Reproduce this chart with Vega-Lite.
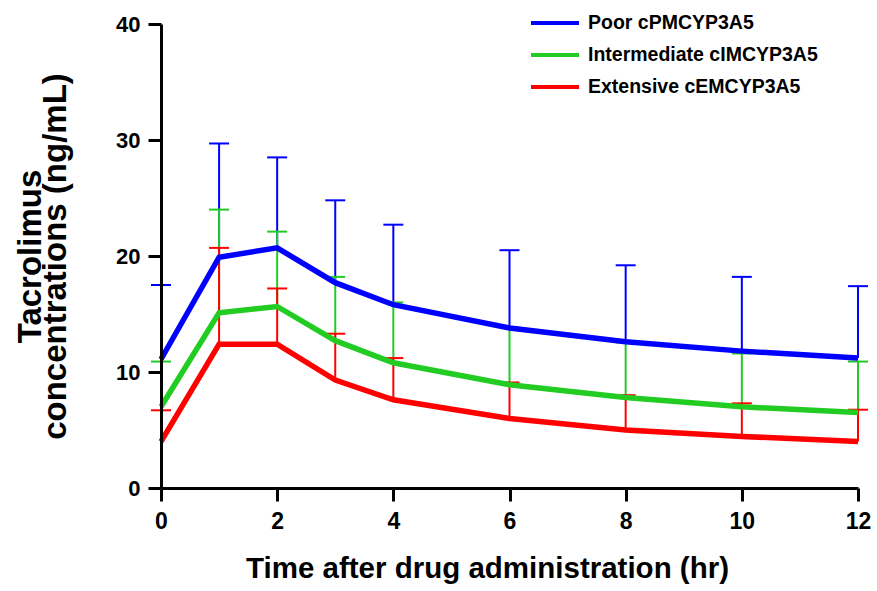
{
  "$schema": "https://vega.github.io/schema/vega-lite/v6.json",
  "width": 697,
  "height": 464,
  "autosize": {"type": "none"},
  "padding": {"left": 161, "top": 24, "right": 19, "bottom": 103},
  "background": "white",
  "config": {
    "view": {"stroke": null},
    "font": "Liberation Sans"
  },
  "data": {
    "values": [
      {"group": "Poor cPMCYP3A5", "t": 0, "mean": 11.1, "upper": 17.5},
      {"group": "Poor cPMCYP3A5", "t": 1, "mean": 19.9, "upper": 29.7},
      {"group": "Poor cPMCYP3A5", "t": 2, "mean": 20.7, "upper": 28.5},
      {"group": "Poor cPMCYP3A5", "t": 3, "mean": 17.7, "upper": 24.8},
      {"group": "Poor cPMCYP3A5", "t": 4, "mean": 15.8, "upper": 22.7},
      {"group": "Poor cPMCYP3A5", "t": 6, "mean": 13.8, "upper": 20.5},
      {"group": "Poor cPMCYP3A5", "t": 8, "mean": 12.6, "upper": 19.2},
      {"group": "Poor cPMCYP3A5", "t": 10, "mean": 11.8, "upper": 18.2},
      {"group": "Poor cPMCYP3A5", "t": 12, "mean": 11.2, "upper": 17.4},
      {"group": "Intermediate cIMCYP3A5", "t": 0, "mean": 7.0, "upper": 10.9},
      {"group": "Intermediate cIMCYP3A5", "t": 1, "mean": 15.1, "upper": 24.0},
      {"group": "Intermediate cIMCYP3A5", "t": 2, "mean": 15.65, "upper": 22.1},
      {"group": "Intermediate cIMCYP3A5", "t": 3, "mean": 12.7, "upper": 18.2},
      {"group": "Intermediate cIMCYP3A5", "t": 4, "mean": 10.8, "upper": 16.0},
      {"group": "Intermediate cIMCYP3A5", "t": 6, "mean": 8.9, "upper": 13.85},
      {"group": "Intermediate cIMCYP3A5", "t": 8, "mean": 7.8, "upper": 12.55},
      {"group": "Intermediate cIMCYP3A5", "t": 10, "mean": 7.0, "upper": 11.6},
      {"group": "Intermediate cIMCYP3A5", "t": 12, "mean": 6.5, "upper": 10.9},
      {"group": "Extensive cEMCYP3A5", "t": 0, "mean": 4.0, "upper": 6.7},
      {"group": "Extensive cEMCYP3A5", "t": 1, "mean": 12.4, "upper": 20.7},
      {"group": "Extensive cEMCYP3A5", "t": 2, "mean": 12.4, "upper": 17.2},
      {"group": "Extensive cEMCYP3A5", "t": 3, "mean": 9.3, "upper": 13.3},
      {"group": "Extensive cEMCYP3A5", "t": 4, "mean": 7.6, "upper": 11.2},
      {"group": "Extensive cEMCYP3A5", "t": 6, "mean": 6.0, "upper": 9.1},
      {"group": "Extensive cEMCYP3A5", "t": 8, "mean": 5.0, "upper": 8.0},
      {"group": "Extensive cEMCYP3A5", "t": 10, "mean": 4.45, "upper": 7.3},
      {"group": "Extensive cEMCYP3A5", "t": 12, "mean": 4.0, "upper": 6.75}
    ]
  },
  "encoding": {
    "x": {
      "field": "t",
      "type": "quantitative",
      "scale": {"domain": [0, 12], "nice": false, "zero": false},
      "axis": {
        "zindex": 1,
        "grid": false,
        "values": [0, 2, 4, 6, 8, 10, 12],
        "domainColor": "black",
        "domainWidth": 3,
        "ticks": true,
        "tickSize": 13,
        "tickWidth": 3,
        "tickColor": "black",
        "tickOpacity": 1,
        "labelFlush": false,
        "labelFont": "Liberation Sans",
        "labelFontWeight": "bold",
        "labelColor": "black",
        "labelFontSize": 23,
        "labelPadding": 9,
        "title": "Time after drug administration (hr)",
        "titleFont": "Liberation Sans",
        "titleFontWeight": "bold",
        "titleColor": "black",
        "titleFontSize": 29.5,
        "titleX": 326,
        "titleY": 89,
        "titleBaseline": "alphabetic",
        "titleAnchor": null
      }
    },
    "y": {
      "field": "mean",
      "type": "quantitative",
      "scale": {"domain": [0, 40], "nice": false},
      "axis": {
        "zindex": 1,
        "grid": false,
        "values": [0, 10, 20, 30, 40],
        "domainColor": "black",
        "domainWidth": 3,
        "ticks": true,
        "tickSize": 13,
        "tickWidth": 3,
        "tickColor": "black",
        "tickOpacity": 1,
        "labelFlush": false,
        "labelFont": "Liberation Sans",
        "labelFontWeight": "bold",
        "labelColor": "black",
        "labelFontSize": 22,
        "labelPadding": 8,
        "title": ["Tacrolimus", "concentrations (ng/mL)"],
        "titleFont": "Liberation Sans",
        "titleFontWeight": "bold",
        "titleColor": "black",
        "titleFontSize": 33,
        "titleLineHeight": 25,
        "titleAngle": -90,
        "titleX": -121,
        "titleY": 232,
        "titleAlign": "center",
        "titleBaseline": "alphabetic",
        "titleAnchor": null
      }
    },
    "color": {
      "field": "group",
      "type": "nominal",
      "scale": {
        "domain": ["Poor cPMCYP3A5", "Intermediate cIMCYP3A5", "Extensive cEMCYP3A5"],
        "range": ["#0000ff", "#22cc22", "#ff0000"]
      },
      "legend": {
        "title": null,
        "orient": "none",
        "legendX": 368,
        "legendY": -17,
        "symbolType": "stroke",
        "symbolSize": 2304,
        "symbolStrokeWidth": 4,
        "clipHeight": 32,
        "rowPadding": 0,
        "labelOffset": 7,
        "labelFont": "Liberation Sans",
        "labelFontWeight": "bold",
        "labelFontSize": 19.5,
        "labelColor": "black",
        "labelLimit": 400
      }
    }
  },
  "layer": [
    {
      "mark": {"type": "rule", "strokeWidth": 2},
      "encoding": {
        "y2": {"field": "upper"}
      }
    },
    {
      "mark": {"type": "point", "shape": "stroke", "size": 400, "strokeWidth": 2, "filled": false, "opacity": 1},
      "encoding": {
        "y": {"field": "upper", "type": "quantitative"}
      }
    },
    {
      "mark": {"type": "line", "strokeWidth": 5.5}
    }
  ]
}
